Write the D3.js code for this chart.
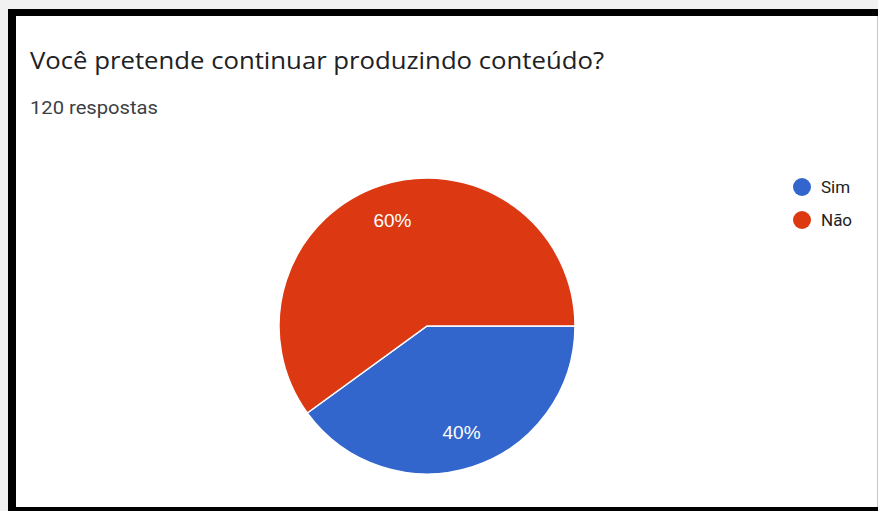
<!DOCTYPE html>
<html>
<head>
<meta charset="utf-8">
<script src="https://cdn.jsdelivr.net/npm/d3@7"></script>
<style>
  body { margin: 0; background: #fff; }
  svg { display: block; }
</style>
</head>
<body>
<svg id="chart" width="878" height="511"></svg>
<script>
const categories = ["Sim", "Não"];
const values = [40, 60];
const colors = ["#3366cc", "#dc3912"];
const title = "Você pretende continuar produzindo conteúdo?";
const subtitle = "120 respostas";

const width = 878, height = 511;
const svg = d3.select("#chart");

// screenshot frame
svg.append("rect").attr("width", width).attr("height", height).attr("fill", "#f1f1f1");
svg.append("rect").attr("x", 16).attr("y", 16).attr("width", 861).attr("height", 491).attr("fill", "#fff");
svg.append("rect").attr("x", 8).attr("y", 9).attr("width", 870).attr("height", 7).attr("fill", "#000");
svg.append("rect").attr("x", 8).attr("y", 9).attr("width", 8).attr("height", 502).attr("fill", "#000");
svg.append("rect").attr("x", 8).attr("y", 507).attr("width", 870).attr("height", 4).attr("fill", "#000");
svg.append("rect").attr("x", 877).attr("y", 16).attr("width", 1).attr("height", 491).attr("fill", "#c8c8c8");

svg.append("text").attr("x", 30).attr("y", 69)
  .attr("font-family", "'Open Sans', Roboto, sans-serif").attr("font-size", 23)
  .attr("textLength", 574).attr("lengthAdjust", "spacingAndGlyphs")
  .attr("fill", "#202124").text(title);

svg.append("text").attr("x", 30).attr("y", 114)
  .attr("font-family", "Roboto, sans-serif").attr("font-size", 18)
  .attr("textLength", 128).attr("lengthAdjust", "spacingAndGlyphs")
  .attr("fill", "#3c4043").text(subtitle);

const cx = 427, cy = 326, r = 148;
const color = d3.scaleOrdinal().domain(categories).range(colors);
const data = categories.map((c, i) => ({ name: c, value: values[i] }));

const pie = d3.pie().value(d => d.value).sort(null)
  .startAngle(Math.PI / 2).endAngle(Math.PI / 2 + 2 * Math.PI);
const arc = d3.arc().innerRadius(0).outerRadius(r);
const labelArc = d3.arc().innerRadius(r * 0.755).outerRadius(r * 0.755);
const total = d3.sum(values);

const g = svg.append("g").attr("transform", `translate(${cx},${cy})`);
g.selectAll("path").data(pie(data)).join("path")
  .attr("d", arc)
  .attr("fill", d => color(d.data.name))
  .attr("stroke", "#fff").attr("stroke-width", 1.5);

g.selectAll("text").data(pie(data)).join("text")
  .attr("transform", d => `translate(${labelArc.centroid(d)})`)
  .attr("text-anchor", "middle").attr("dy", "0.36em")
  .attr("font-family", "Arial, 'Liberation Sans', sans-serif").attr("font-size", 19)
  .attr("fill", "#fff")
  .text(d => Math.round(d.data.value / total * 100) + "%");

const legend = svg.append("g").attr("transform", "translate(802,187)");
const item = legend.selectAll("g").data(categories).join("g")
  .attr("transform", (d, i) => `translate(0,${i * 33})`);
item.append("circle").attr("r", 9).attr("fill", d => color(d));
item.append("text").attr("x", 19).attr("dy", "0.36em")
  .attr("font-family", "Roboto, sans-serif").attr("font-size", 17)
  .attr("fill", "#222").text(d => d);
</script>
</body>
</html>
